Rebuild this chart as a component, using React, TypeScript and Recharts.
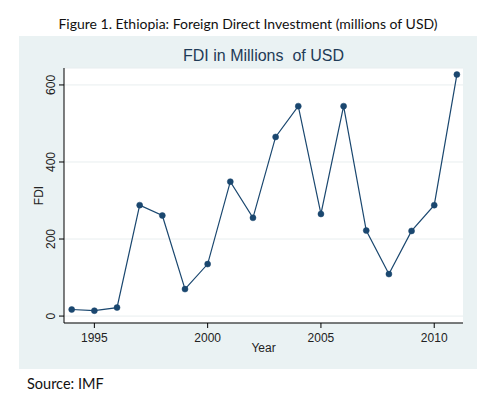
import { CartesianGrid, Label, Line, LineChart, XAxis, YAxis } from "recharts";

const years = [1994, 1995, 1996, 1997, 1998, 1999, 2000, 2001, 2002, 2003, 2004, 2005, 2006, 2007, 2008, 2009, 2010, 2011];
const fdi = [17, 14, 22, 288, 261, 70, 135, 349, 255, 465, 545, 265, 545, 222, 109, 221, 288, 627];
const xTicks = [1995, 2000, 2005, 2010];
const yTicks = [0, 200, 400, 600];

const data = years.map((year, i) => ({ year, fdi: fdi[i] }));

const NAVY = "#1a476f";
const AXIS_FONT = "'Liberation Sans', Arial, sans-serif";

function YTick(props: any) {
  const { x, y, payload } = props;
  return (
    <text
      x={x}
      y={y}
      transform={`rotate(-90, ${x}, ${y})`}
      textAnchor="middle"
      fontSize={12}
      fill="#222"
      fontFamily={AXIS_FONT}
    >
      {payload.value}
    </text>
  );
}

export default function App() {
  return (
    <div style={{ position: "absolute", left: 0, top: 0, width: 501, height: 395, background: "#fff" }}>
      <div
        style={{
          position: "absolute",
          left: 0,
          width: 496,
          top: 15,
          textAlign: "center",
          fontFamily: "Lato, 'Open Sans', sans-serif",
          fontSize: 14,
          color: "#111",
        }}
      >
        Figure 1. Ethiopia: Foreign Direct Investment (millions of USD)
      </div>
      <div style={{ position: "absolute", left: 19, top: 36, width: 458, height: 333, background: "#eaf2f3" }}>
        <div
          style={{
            position: "absolute",
            left: 45,
            width: 399,
            top: 11,
            textAlign: "center",
            whiteSpace: "pre",
            fontFamily: AXIS_FONT,
            fontSize: 16,
            color: "#1f3b57",
          }}
        >
          {"FDI in Millions  of USD"}
        </div>
        <LineChart
          width={458}
          height={333}
          data={data}
          margin={{ top: 32, right: 14, bottom: 0, left: 0 }}
          style={{ position: "absolute", left: 0, top: 0 }}
        >
          <CartesianGrid horizontal vertical={false} fill="#ffffff" stroke="#e8eeef" />
          <XAxis
            dataKey="year"
            type="number"
            domain={[1993.66, 2011.27]}
            allowDataOverflow
            ticks={xTicks}
            height={46}
            tickSize={5}
            tickMargin={5}
            axisLine={{ stroke: "#000" }}
            tickLine={{ stroke: "#000" }}
            tick={{ fontSize: 12, fill: "#222", fontFamily: AXIS_FONT }}
          >
            <Label value="Year" position="insideBottom" offset={17} fontSize={12} fill="#222" fontFamily={AXIS_FONT} />
          </XAxis>
          <YAxis
            type="number"
            domain={[-18, 644]}
            allowDataOverflow
            ticks={yTicks}
            width={45}
            tickSize={5}
            tickMargin={4}
            axisLine={{ stroke: "#000" }}
            tickLine={{ stroke: "#000" }}
            tick={<YTick />}
          >
            <Label
              value="FDI"
              angle={-90}
              position="insideLeft"
              offset={20}
              style={{ textAnchor: "middle" }}
              fontSize={12}
              fill="#222"
              fontFamily={AXIS_FONT}
            />
          </YAxis>
          <Line
            type="linear"
            dataKey="fdi"
            stroke={NAVY}
            strokeWidth={1.2}
            dot={{ r: 3, fill: NAVY, stroke: NAVY, strokeWidth: 0.5 }}
            isAnimationActive={false}
          />
        </LineChart>
      </div>
      <div
        style={{
          position: "absolute",
          left: 27,
          top: 375,
          fontFamily: "Lato, 'Open Sans', sans-serif",
          fontSize: 14.5,
          color: "#111",
        }}
      >
        Source: IMF
      </div>
    </div>
  );
}
